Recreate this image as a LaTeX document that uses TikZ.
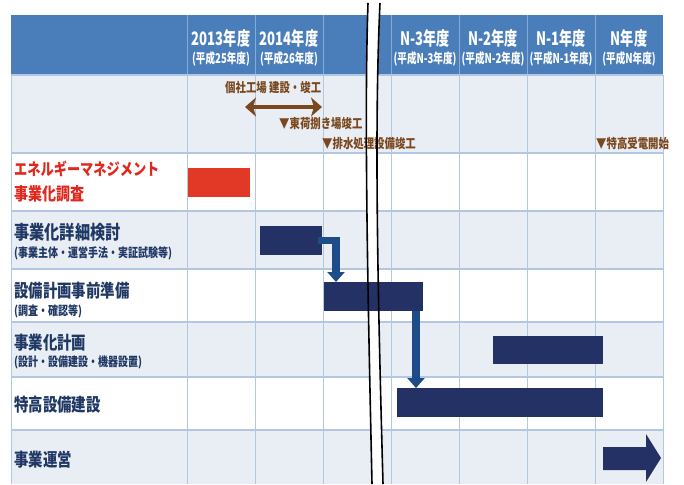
\documentclass[tikz,border=0pt]{standalone}
\usepackage{fontspec}
\newfontfamily\jp{Noto Sans CJK JP}[FakeStretch=0.8]
\newfontfamily\jpn{Noto Sans CJK JP}[FakeStretch=0.71]
\usetikzlibrary{arrows.meta}
\definecolor{hdrblue}{RGB}{74,126,187}
\definecolor{hdrline}{RGB}{135,170,214}
\definecolor{rowlight}{RGB}{233,237,244}
\definecolor{gridblue}{RGB}{178,199,227}
\definecolor{navybar}{RGB}{36,49,100}
\definecolor{connblue}{RGB}{30,76,136}
\definecolor{redbar}{RGB}{226,56,38}
\definecolor{labelnavy}{RGB}{31,56,100}
\definecolor{labelred}{RGB}{226,40,30}
\definecolor{notebrown}{RGB}{122,72,30}
\tikzset{
  hdr/.style={text=white, inner sep=0, font=\jpn\bfseries\fontsize{18.5}{20}\selectfont},
  hsub/.style={text=white, inner sep=0, font=\jpn\bfseries\fontsize{13.5}{15}\selectfont},
  lbl/.style={anchor=west, inner sep=0, text=labelnavy, font=\jp\bfseries\fontsize{18}{20}\selectfont},
  redlbl/.style={anchor=west, inner sep=0, text=labelred, font=\jp\bfseries\fontsize{17.5}{19}\selectfont},
  lsub/.style={anchor=west, inner sep=0, text=labelnavy, font=\jp\bfseries\fontsize{12.5}{14}\selectfont},
  note/.style={anchor=west, inner sep=0, text=notebrown, font=\jp\bfseries\fontsize{13}{15}\selectfont},
  bar/.style={anchor=north west, fill=navybar, draw=none, inner sep=0, outer sep=0},
  conn/.style={draw=connblue, line width=7.5pt, -{Triangle[length=10pt,width=17pt]}},
  breakline/.style={draw=black, line width=1.6pt},
}
\begin{document}
\begin{tikzpicture}[x=1pt,y=-1pt]
\useasboundingbox (0,0) rectangle (684,484);
\fill[white] (0,0) rectangle (684,484);
% rows
\fill[rowlight] (11,75) rectangle (663,153);
\fill[rowlight] (11,211) rectangle (663,269);
\fill[rowlight] (11,322) rectangle (663,377);
\fill[rowlight] (11,430) rectangle (663,484);
% header
\fill[hdrblue] (11,15) rectangle (663,75);
\foreach \x in {187,255,323,391,459,527,595}
  \draw[hdrline, line width=1pt] (\x,15) -- (\x,75);
% grid
\foreach \y in {75,153,211,269,322,377,430}
  \draw[gridblue, line width=1.5pt] (11,\y) -- (663,\y);
\foreach \x in {11,187,255,323,391,459,527,595,663}
  \draw[gridblue, line width=1pt] (\x,75) -- (\x,484);
% break gap
\fill[white] (368,3) .. controls (364,120) and (368,300) .. (372,484)
  -- (383,484) .. controls (378,300) and (374,130) .. (380,3) -- cycle;
% header texts
\node[hdr]  (h1) at (221,38) {2013年度};
\node[hsub] (s1) at (221,59) {(平成25年度)};
\node[hdr]  (h2) at (289,38) {2014年度};
\node[hsub] (s2) at (289,59) {(平成26年度)};
\node[hdr]  (h3) at (425,38) {N-3年度};
\node[hsub] (s3) at (425,59) {(平成N-3年度)};
\node[hdr]  (h4) at (493,38) {N-2年度};
\node[hsub] (s4) at (493,59) {(平成N-2年度)};
\node[hdr]  (h5) at (561,38) {N-1年度};
\node[hsub] (s5) at (561,59) {(平成N-1年度)};
\node[hdr]  (h6) at (629,38) {N年度};
\node[hsub] (s6) at (629,59) {(平成N年度)};
% notes
\node[note] (n1) at (225,88) {個社工場 建設・竣工};
\coordinate (da) at (245,107);
\coordinate (db) at (322,107);
\draw[notebrown, line width=4.5pt, {Stealth[length=11pt,width=19pt,inset=3pt]}-{Stealth[length=11pt,width=19pt,inset=3pt]}] (da) -- (db);
\node[note] (n2) at (279,124) {▼東荷捌き場竣工};
\node[note] (n3) at (322,144) {▼排水処理設備竣工};
\node[note] (n4) at (596,144) {▼特高受電開始};
% row labels
\node[redlbl, font=\jp\bfseries\fontsize{16.5}{18}\selectfont] (l1a) at (14,169) {エネルギーマネジメント};
\node[redlbl] (l1b) at (14,194) {事業化調査};
\node[lbl, font=\jp\bfseries\fontsize{19}{21}\selectfont]  (l2)  at (14,232) {事業化詳細検討};
\node[lsub] (l2s) at (14,253) {(事業主体・運営手法・実証試験等)};
\node[lbl]  (l3)  at (14,291) {設備計画事前準備};
\node[lsub] (l3s) at (14,311) {(調査・確認等)};
\node[lbl]  (l4)  at (14,343) {事業化計画};
\node[lsub] (l4s) at (14,362) {(設計・設備建設・機器設置)};
\node[lbl]  (l5)  at (14,405) {特高設備建設};
\node[lbl]  (l6)  at (14,460) {事業運営};
% bars
\node[bar, fill=redbar, minimum width=62pt, minimum height=29pt] (b1) at (188,168) {};
\node[bar, minimum width=62pt,  minimum height=29pt] (b2) at (260,226) {};
\node[bar, minimum width=99pt,  minimum height=29pt] (b3) at (324,282) {};
\node[bar, minimum width=110pt, minimum height=28pt] (b4) at (493,336) {};
\node[bar, minimum width=206pt, minimum height=29pt] (b5) at (397,388) {};
% connectors
\draw[conn] ([xshift=-4pt]b2.east) -| ([xshift=12pt]b3.north west);
\draw[conn] ([xshift=-7pt]b3.south east) -- ([xshift=-7pt]b3.south east |- b5.north);
% operation arrow
\fill[navybar] (603,447) -- (646,447) -- (646,434) -- (661,458) -- (646,482) -- (646,470) -- (603,470) -- cycle;
% break lines
\draw[breakline] (368,3) .. controls (364,120) and (368,300) .. (372,484);
\draw[breakline] (380,3) .. controls (374,130) and (378,300) .. (383,484);
\end{tikzpicture}
\end{document}
